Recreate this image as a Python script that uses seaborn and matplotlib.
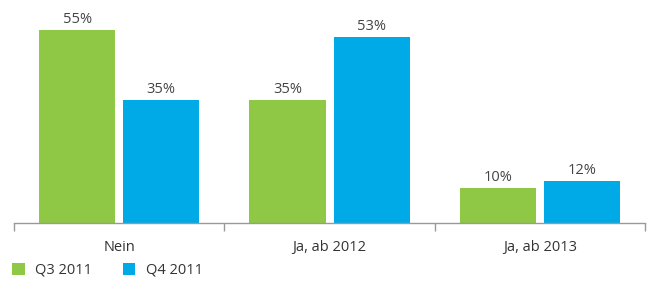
import pandas as pd
import numpy as np

import matplotlib
matplotlib.use('Agg')
import matplotlib.pyplot as plt
import seaborn as sns

# Daten
kategorien = ['Nein', 'Ja, ab 2012', 'Ja, ab 2013']
q3_2011 = [55, 35, 10]
q4_2011 = [35, 53, 12]
serien = ['Q3 2011', 'Q4 2011']

data = pd.DataFrame({
    'Antwort': kategorien * 2,
    'Quartal': [serien[0]] * 3 + [serien[1]] * 3,
    'Wert': q3_2011 + q4_2011,
})

sns.set_style('white')
plt.rcParams['font.family'] = ['Open Sans', 'DejaVu Sans']

fig = plt.figure(figsize=(6.52, 2.82), dpi=100)
ax = fig.add_axes([0.0215, 0.209, 0.968, 0.747])

sns.barplot(data=data, x='Antwort', y='Wert', hue='Quartal',
            palette=['#8fc844', '#00aae6'], width=0.8, gap=0.095,
            saturation=1, linewidth=0, ax=ax)

# Beschriftungen ueber den Balken
for cont in ax.containers:
    ax.bar_label(cont, labels=[f'{v:.0f}%' for v in cont.datavalues],
                 padding=2, fontsize=10.5, color='#444444')

ax.set_ylim(0, 60)
ax.set_xlim(-0.5, 2.5)
ax.set_xlabel('')
ax.set_ylabel('')
ax.set_yticks([])

sns.despine(ax=ax, left=True, top=True, right=True)
ax.spines['bottom'].set_color('#999999')
ax.spines['bottom'].set_linewidth(1)

ax.tick_params(axis='x', which='major', bottom=False, length=0, pad=12,
               labelsize=10.5, labelcolor='#333333')
ax.set_xticks([-0.5, 0.5, 1.5, 2.5], minor=True)
ax.tick_params(axis='x', which='minor', bottom=True, length=6, width=1,
               color='#999999', direction='out')

leg = ax.legend(loc='center left', bbox_to_anchor=(-0.003, -0.225), ncol=2,
                frameon=False, fontsize=10.5, handlelength=0.85,
                handleheight=0.85, handletextpad=0.75, columnspacing=2.1,
                borderaxespad=0, borderpad=0)
for t in leg.get_texts():
    t.set_color('#333333')

fig.savefig('out.png', dpi=100)
